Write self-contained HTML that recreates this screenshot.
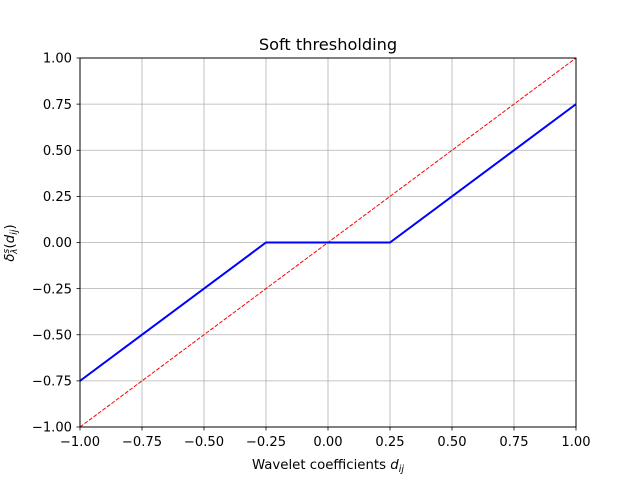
<!DOCTYPE html>
<html><head><meta charset="utf-8"><style>
body{margin:0;background:#fff;}
svg text{font-family:"DejaVu Sans","Liberation Sans",sans-serif;}
</style></head><body>
<svg id="chart" width="640" height="480" xmlns="http://www.w3.org/2000/svg">
<rect width="640" height="480" fill="#fff"/>
<g id="grid"></g>
<g id="ticks"></g>
<g id="series"></g>
<rect x="80" y="58" width="496" height="369" fill="none" stroke="#000" stroke-width="1"/>
<text x="328" y="50" text-anchor="middle" font-size="16.2">Soft thresholding</text>
<text x="328" y="469" text-anchor="middle" font-size="13.3">Wavelet coefficients <tspan font-style="italic">d</tspan><tspan font-style="italic" font-size="9.5" dy="3">ij</tspan></text>
<text transform="translate(14,243) rotate(-90)" text-anchor="middle" font-size="13.3"><tspan font-style="italic">δ</tspan><tspan font-style="italic" font-size="9" dy="-5">s</tspan><tspan font-style="italic" font-size="9" dx="-5" dy="8">λ</tspan><tspan dy="-3">(</tspan><tspan font-style="italic">d</tspan><tspan font-style="italic" font-size="9.5" dy="3">ij</tspan><tspan dy="-3">)</tspan></text>
</svg>
<script>
const xTicks=[-1,-0.75,-0.5,-0.25,0,0.25,0.5,0.75,1];
const yTicks=[-1,-0.75,-0.5,-0.25,0,0.25,0.5,0.75,1];
const softX=[-1,-0.25,0.25,1];
const softY=[-0.75,0,0,0.75];
const identX=[-1,1];
const identY=[-1,1];
const X0=80,X1=576,Y0=427,Y1=58;
const sx=v=>X0+(v+1)/2*(X1-X0);
const sy=v=>Y0-(v+1)/2*(Y0-Y1);
const NS="http://www.w3.org/2000/svg";
function mk(tag,attrs,parent){const e=document.createElementNS(NS,tag);for(const k in attrs)e.setAttribute(k,attrs[k]);parent.appendChild(e);return e;}
const fmt=v=>{let s=v.toFixed(2);return s.startsWith('-')?'\u2212'+s.slice(1):s;};
const grid=document.getElementById('grid'),ticks=document.getElementById('ticks'),series=document.getElementById('series');
xTicks.forEach(v=>{
  const g=mk('line',{x1:sx(v),x2:sx(v),y1:Y1,y2:Y0,stroke:'#b0b0b0','stroke-width':0.8},grid);
  
  
  mk('line',{x1:sx(v),x2:sx(v),y1:Y0,y2:Y0+3.5,stroke:'#000','stroke-width':0.8},ticks);
  const t=mk('text',{x:sx(v),y:Y0+19,'text-anchor':'middle','font-size':13.1},ticks);
  t.textContent=fmt(v);
  
  
});
yTicks.forEach(v=>{
  const g=mk('line',{x1:X0,x2:X1,y1:sy(v),y2:sy(v),stroke:'#b0b0b0','stroke-width':0.8},grid);
  
  
  mk('line',{x1:X0-3.5,x2:X0,y1:sy(v),y2:sy(v),stroke:'#000','stroke-width':0.8},ticks);
  const t=mk('text',{x:X0-8,y:sy(v)+4.7,'text-anchor':'end','font-size':13.1},ticks);
  t.textContent=fmt(v);
  
  
});
const id=mk('polyline',{points:identX.map((x,i)=>sx(x)+','+sy(identY[i])).join(' '),fill:'none',stroke:'#ff0000','stroke-width':1,'stroke-dasharray':'4,1.6'},series);


const sl=mk('polyline',{points:softX.map((x,i)=>sx(x)+','+sy(softY[i])).join(' '),fill:'none',stroke:'#0000ff','stroke-width':2},series);


</script>
</body></html>
